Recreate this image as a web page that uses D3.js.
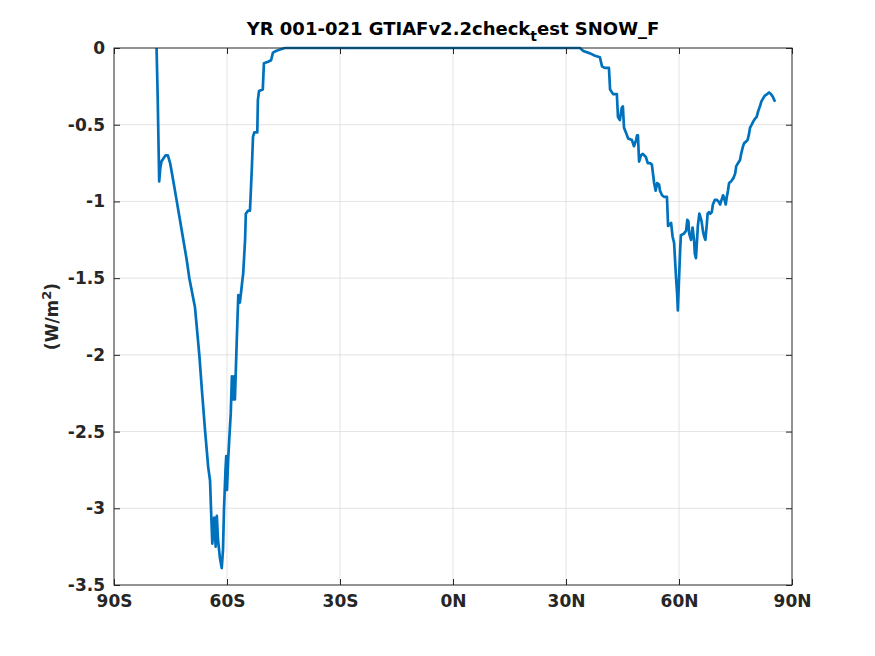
<!DOCTYPE html>
<html>
<head>
<meta charset="utf-8">
<script src="https://cdn.jsdelivr.net/npm/d3@7"></script>
<style>
body{margin:0;background:#fff;}
svg{font-family:"DejaVu Sans",sans-serif;}
</style>
</head>
<body>
<svg id="chart" width="875" height="656"></svg>
<script>
const titleMain = "YR 001-021 GTIAFv2.2check";
const titleSub = "t";
const titleRest = "est SNOW_F";
const xTicks = [-90,-60,-30,0,30,60,90];
const xTickLabels = ["90S","60S","30S","0N","30N","60N","90N"];
const yTicks = [0,-0.5,-1,-1.5,-2,-2.5,-3,-3.5];
const yTickLabels = ["0","-0.5","-1","-1.5","-2","-2.5","-3","-3.5"];

const lat = [-78.7,-78.4,-78.2,-78.0,-77.7,-77.4,-76.9,-76.3,-75.7,-75.1,-74.3,-73.4,-72.5,-71.6,-70.7,-70.0,
 -68.5,-67.35,-66.6,-65.8,-65.0,-64.5,-64.25,-63.9,-63.4,-63.0,-62.7,-62.4,-61.9,-61.4,-61.06,-60.8,-60.4,-60.2,-60.0,
 -59.7,-59.4,-59.0,-58.7,-58.4,-58.1,-57.9,-57.4,-57.0,-56.6,-56.3,-55.9,-55.7,-55.2,-55.0,-54.4,-53.9,-53.7,-53.4,
 -53.1,-52.75,-51.96,-51.8,-51.5,-50.5,-50.2,-49.1,-48.3,-47.8,-47.0,-45.9,-44.6,
 33.7,34.6,36.4,37.7,39.0,39.56,40.35,41.4,41.7,42.5,43.5,43.8,44.3,44.8,45.1,45.4,45.9,46.5,47.5,48.05,48.6,48.85,
 49.1,49.4,49.9,50.4,51.2,51.7,52.3,52.8,53.4,53.8,54.2,54.7,54.95,55.5,56.0,56.8,57.1,57.5,57.9,58.3,58.7,58.9,
 59.2,59.5,59.7,60.0,60.3,60.5,61.3,61.9,62.2,62.5,62.7,63.2,63.6,64.0,64.2,64.5,64.8,65.0,65.4,65.65,66.0,66.4,
 66.7,67.0,67.35,67.6,67.96,68.3,68.7,69.0,69.5,70.0,70.5,70.9,71.3,71.7,71.9,72.4,72.7,73.0,73.3,73.8,74.4,74.9,
 75.2,75.7,76.2,76.5,77.0,77.3,77.8,78.2,78.6,78.85,79.3,79.7,80.2,80.6,81.05,81.5,81.85,82.3,82.8,83.4,83.9,84.4,
 84.95,85.5];
const snowF = [0,-0.32,-0.6,-0.87,-0.78,-0.74,-0.72,-0.70,-0.70,-0.75,-0.86,-0.99,-1.12,-1.25,-1.38,-1.5,
 -1.69,-2.0,-2.25,-2.5,-2.73,-2.82,-3.0,-3.23,-3.06,-3.25,-3.05,-3.2,-3.32,-3.39,-3.27,-3.01,-2.75,-2.66,-2.88,
 -2.69,-2.55,-2.38,-2.14,-2.29,-2.14,-2.29,-1.9,-1.61,-1.66,-1.6,-1.51,-1.47,-1.25,-1.08,-1.06,-1.06,-0.95,-0.78,
 -0.58,-0.55,-0.55,-0.34,-0.28,-0.27,-0.1,-0.09,-0.08,-0.03,-0.02,-0.01,0,
 0,-0.02,-0.035,-0.05,-0.06,-0.12,-0.13,-0.13,-0.27,-0.3,-0.3,-0.45,-0.47,-0.39,-0.38,-0.52,-0.55,-0.59,-0.6,-0.64,-0.6,-0.57,
 -0.57,-0.74,-0.70,-0.69,-0.71,-0.75,-0.75,-0.76,-0.88,-0.93,-0.88,-0.89,-0.93,-0.96,-0.97,-0.97,-1.16,-1.15,-1.14,-1.23,-1.27,-1.36,
 -1.49,-1.6,-1.71,-1.51,-1.32,-1.22,-1.21,-1.19,-1.12,-1.13,-1.21,-1.25,-1.17,-1.25,-1.34,-1.37,-1.25,-1.16,-1.08,-1.1,-1.13,-1.2,
 -1.23,-1.25,-1.16,-1.08,-1.07,-1.08,-1.07,-1.02,-0.99,-0.99,-1.0,-1.02,-0.99,-0.96,-0.97,-1.02,-0.97,-0.93,-0.88,-0.87,-0.85,-0.82,
 -0.77,-0.75,-0.73,-0.69,-0.64,-0.62,-0.61,-0.6,-0.56,-0.52,-0.5,-0.48,-0.46,-0.45,-0.41,-0.38,-0.35,-0.33,-0.31,-0.3,-0.29,-0.3,
 -0.32,-0.35];

const svg = d3.select("#chart");
const L = 114, R = 792, T = 48, B = 585;
const x = d3.scaleLinear().domain([-90,90]).range([L,R]);
const y = d3.scaleLinear().domain([-3.5,0]).range([B,T]);
const axisColor = "#262626";
const tickFont = "17px";

// grid
const g = svg.append("g");
g.selectAll(".gx").data(xTicks.slice(1,-1)).join("line")
  .attr("x1",d=>x(d)).attr("x2",d=>x(d)).attr("y1",T).attr("y2",B)
  .attr("stroke","#dcdcdc").attr("stroke-width",0.8);
g.selectAll(".gy").data(yTicks.slice(1,-1)).join("line")
  .attr("y1",d=>y(d)).attr("y2",d=>y(d)).attr("x1",L).attr("x2",R)
  .attr("stroke","#dcdcdc").attr("stroke-width",0.8);

// data line
const pts = lat.map((d,i)=>[d,snowF[i]]);
svg.append("path").datum(pts)
  .attr("fill","none").attr("stroke","#0072BD").attr("stroke-width",2.7)
  .attr("stroke-linejoin","round")
  .attr("d", d3.line().x(d=>x(d[0])).y(d=>y(d[1])));

// axes
const tickFmtX = d=>xTickLabels[xTicks.indexOf(d)];
const tickFmtY = d=>yTickLabels[yTicks.indexOf(d)];
function styleAxis(sel){
  sel.select(".domain").remove();
  sel.selectAll(".tick line").attr("stroke",axisColor);
  sel.selectAll(".tick text").attr("fill",axisColor)
    .style("font-family","'DejaVu Sans',sans-serif").style("font-weight","bold").style("font-size",tickFont);
}
svg.append("g").attr("transform",`translate(0,${B})`)
  .call(d3.axisBottom(x).tickValues(xTicks).tickFormat(tickFmtX).tickSizeInner(-6).tickSizeOuter(0).tickPadding(10))
  .call(styleAxis);
svg.append("g").attr("transform",`translate(0,${T})`)
  .call(d3.axisTop(x).tickValues(xTicks).tickFormat("").tickSizeInner(-6).tickSizeOuter(0))
  .call(styleAxis);
svg.append("g").attr("transform",`translate(${L},0)`)
  .call(d3.axisLeft(y).tickValues(yTicks).tickFormat(tickFmtY).tickSizeInner(-6).tickSizeOuter(0).tickPadding(9))
  .call(styleAxis);
svg.append("g").attr("transform",`translate(${R},0)`)
  .call(d3.axisRight(y).tickValues(yTicks).tickFormat("").tickSizeInner(-6).tickSizeOuter(0))
  .call(styleAxis);

svg.append("rect").attr("x",L).attr("y",T).attr("width",R-L).attr("height",B-T)
  .attr("fill","none").attr("stroke",axisColor).attr("stroke-width",1);

// title
const title = svg.append("text").attr("x",(L+R)/2).attr("y",35).attr("text-anchor","middle")
  .attr("fill","#000").style("font-weight","bold").style("font-size","18px");
title.append("tspan").text(titleMain);
title.append("tspan").attr("dy",6).style("font-size","14px").text(titleSub);
title.append("tspan").attr("dy",-6).text(titleRest);

// y label
const yl = svg.append("text").attr("transform",`translate(58,${(T+B)/2}) rotate(-90)`)
  .attr("text-anchor","middle").attr("fill",axisColor).style("font-weight","bold").style("font-size","17px");
yl.append("tspan").text("(W/m");
yl.append("tspan").attr("dy",-7).style("font-size","13px").text("2");
yl.append("tspan").attr("dy",7).text(")");
</script>
</body>
</html>
